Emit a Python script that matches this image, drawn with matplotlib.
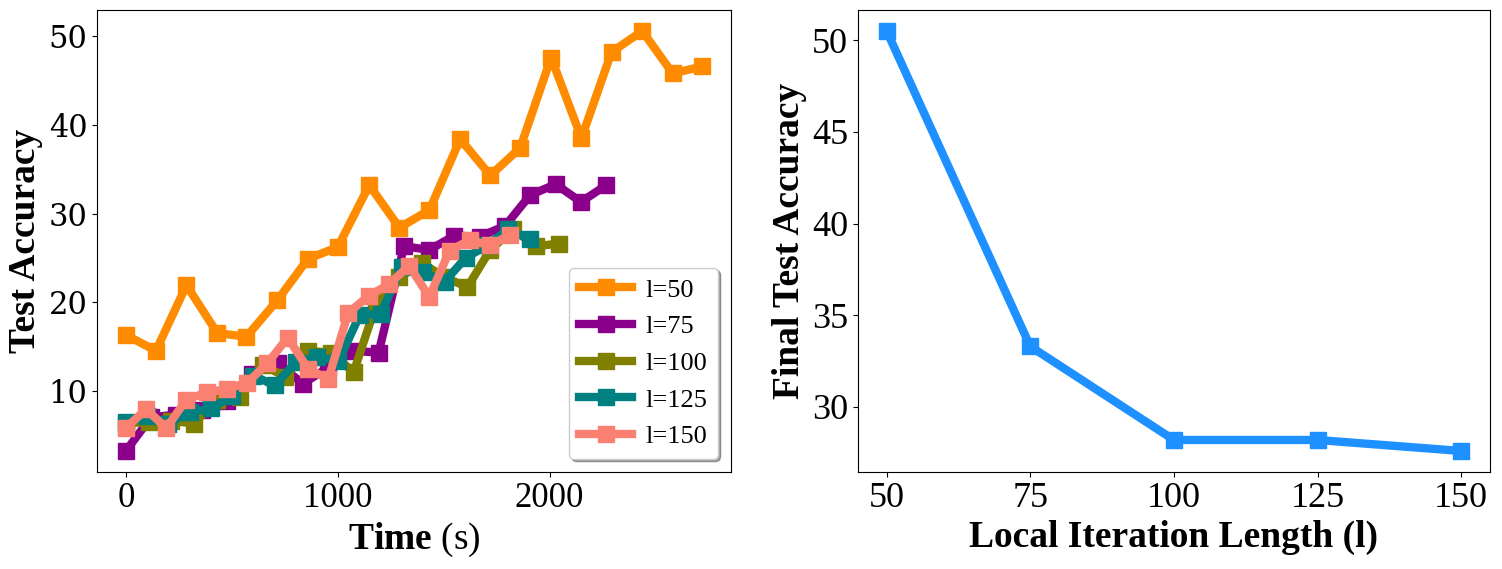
import matplotlib
matplotlib.use('Agg')
import matplotlib.pyplot as plt

plt.rcParams['font.family'] = ['Liberation Serif', 'DejaVu Serif']
plt.rcParams['mathtext.fontset'] = 'custom'
plt.rcParams['mathtext.rm'] = 'Liberation Serif'
plt.rcParams['mathtext.bf'] = 'Liberation Serif:bold'

# left panel: accuracy over wall-clock time
t50 = [0, 142, 286, 432, 569, 715, 860, 1000, 1149, 1291,
       1433, 1578, 1720, 1861, 2007, 2150, 2292, 2437, 2581, 2720]
acc50 = [16.3, 14.5, 21.9, 16.5, 16.1, 20.2, 24.9, 26.2, 33.2, 28.4,
         30.4, 38.4, 34.3, 37.4, 47.6, 38.5, 48.2, 50.6, 45.8, 46.6]

t75 = [0, 119, 239, 358, 477, 597, 716, 835, 955, 1074,
       1193, 1313, 1432, 1551, 1671, 1790, 1909, 2029, 2148, 2267]
acc75 = [3.2, 7.0, 7.3, 7.8, 8.8, 11.9, 13.1, 10.8, 12.6, 14.5,
         14.3, 26.3, 25.9, 27.5, 27.4, 28.6, 32.1, 33.3, 31.3, 33.2]

t100 = [0, 107, 215, 322, 430, 537, 645, 752, 860, 967,
        1075, 1182, 1290, 1397, 1505, 1612, 1720, 1827, 1935, 2042]
acc100 = [6.3, 6.5, 6.6, 6.3, 9.0, 9.3, 12.9, 11.6, 14.5, 14.3,
          12.1, 19.8, 22.8, 24.4, 22.8, 21.7, 25.9, 28.2, 26.3, 26.6]

t125 = [0, 100, 200, 301, 401, 501, 602, 702, 802, 902,
        1003, 1103, 1203, 1303, 1404, 1504, 1604, 1704, 1805, 1905]
acc125 = [6.5, 7.1, 6.3, 7.6, 8.0, 9.4, 11.7, 10.6, 13.2, 13.8,
          13.3, 18.5, 18.7, 24.0, 23.4, 22.3, 25.0, 26.4, 28.2, 27.1]

t150 = [0, 95, 191, 286, 382, 477, 573, 668, 764, 859,
        955, 1050, 1146, 1241, 1337, 1432, 1528, 1623, 1719, 1814]
acc150 = [5.8, 7.9, 5.8, 9.0, 9.8, 10.2, 10.9, 13.1, 16.0, 12.5,
          11.3, 18.8, 20.7, 22.0, 24.1, 20.6, 25.8, 27.0, 26.4, 27.6]

series = [('l=50', t50, acc50, 'darkorange'),
          ('l=75', t75, acc75, 'darkmagenta'),
          ('l=100', t100, acc100, 'olive'),
          ('l=125', t125, acc125, 'teal'),
          ('l=150', t150, acc150, 'salmon')]

# right panel: final accuracy per local iteration length
lengths = [50, 75, 100, 125, 150]
final_acc = [50.5, 33.3, 28.2, 28.2, 27.6]

fig = plt.figure(figsize=(15.02, 5.69), dpi=100)
ax1 = fig.add_axes([0.0646, 0.1705, 0.4221, 0.812])
ax2 = fig.add_axes([0.5712, 0.1705, 0.4208, 0.812])

for name, t, acc, c in series:
    ax1.plot(t, acc, color=c, linewidth=6, marker='s', markersize=12, label=name)
ax1.set_xlabel(r'$\mathbf{Time}$ (s)', fontsize=27)
ax1.set_ylabel('Test Accuracy', fontsize=27, fontweight='bold')
ax1.set_xticks([0, 1000, 2000])
ax1.set_yticks([10, 20, 30, 40, 50])
ax1.tick_params(labelsize=25)
for lab in ax1.get_yticklabels():
    lab.set_family('DejaVu Serif')
    lab.set_fontsize(22)
ax1.legend(loc='lower right', fontsize=19, shadow=True, handlelength=2.0,
           handletextpad=0.5)

ax2.plot(lengths, final_acc, color='dodgerblue', linewidth=6, marker='s', markersize=11)
ax2.set_xlabel('Local Iteration Length (l)', fontsize=27, fontweight='bold')
ax2.set_ylabel('Final Test Accuracy', fontsize=27, fontweight='bold')
ax2.set_xticks(lengths)
ax2.set_yticks([30, 35, 40, 45, 50])
ax2.tick_params(labelsize=26)

fig.savefig('out.png', dpi=100)
